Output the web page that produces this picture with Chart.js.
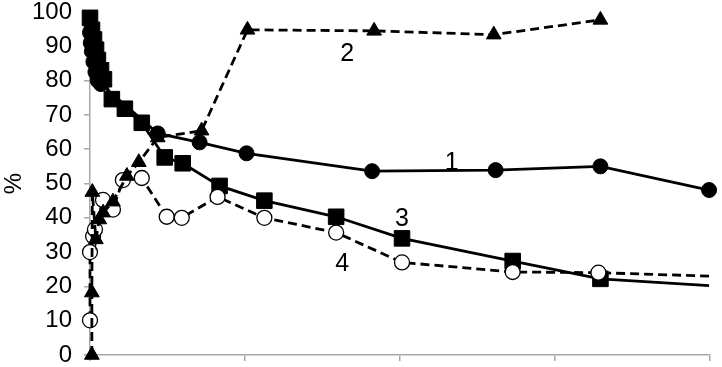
<!DOCTYPE html>
<html>
<head>
<meta charset="utf-8">
<script src="https://cdn.jsdelivr.net/npm/chart.js@4/dist/chart.umd.min.js"></script>
<style>
  html, body { margin: 0; padding: 0; background: #fff; }
  #wrap { width: 722px; height: 367px; }
</style>
</head>
<body>
<div id="wrap"><canvas id="chart"></canvas></div>
<script>
// curve 1 - filled circles, solid
const s1x = [0, 0.005, 0.012, 0.022, 0.035, 0.05, 0.07, 0.437, 0.707, 1.01, 1.82, 2.617, 3.293, 3.994];
const s1y = [94, 91, 88.5, 85.5, 82.5, 80, 79, 64.6, 62, 58.8, 53.6, 53.9, 55, 48.1];

// curve 2 - triangles, dashed
const s2x = [0.012, 0.012, 0.015, 0.038, 0.06, 0.085, 0.148, 0.238, 0.315, 0.437, 0.72, 1.016, 1.833, 2.605, 3.293];
const s2y = [0, 18.2, 47.5, 33.7, 39.5, 41.5, 44.7, 52.2, 56.2, 63.4, 65.4, 94.8, 94.5, 93.4, 97.7];

// curve 3 - filled squares, solid
const s3x = [0, 0.013, 0.026, 0.039, 0.051, 0.071, 0.09, 0.141, 0.225, 0.334, 0.482, 0.598, 0.836, 1.125, 1.588, 2.013, 2.727, 3.293, 3.994];
const s3y = [98.3, 94.8, 92, 89, 86, 83, 80.4, 74.6, 71.8, 67.7, 57.6, 55.9, 49.3, 45, 40.3, 34, 27.4, 22.2, 20.2];

// curve 4 - open circles, dashed
const s4x = [0, 0, 0.02, 0.032, 0.084, 0.148, 0.212, 0.334, 0.495, 0.592, 0.823, 1.125, 1.588, 2.013, 2.727, 3.28, 3.994];
const s4y = [10.1, 30, 34.6, 36.6, 45.2, 42.4, 51, 51.6, 40.3, 40, 46.1, 40, 35.7, 27, 24.2, 24, 23];

// curve numbers placed in data units
const labelText = ['1', '2', '3', '4'];
const labelX = [2.334, 1.659, 2.013, 1.627];
const labelY = [55.9, 87.6, 39.5, 26.5];

const pts = (xs, ys) => xs.map((x, i) => ({ x: x, y: ys[i] }));
const noLast = (n, r) => Array.from({ length: n }, (_, i) => i === n - 1 ? 0 : r);

const curveLabels = {
  id: 'curveLabels',
  afterDatasetsDraw(chart) {
    const ctx = chart.ctx;
    const xs = chart.scales.x, ys = chart.scales.y;
    ctx.save();
    ctx.fillStyle = '#000';
    ctx.font = '25px "Liberation Sans", Arial, sans-serif';
    ctx.textAlign = 'center';
    ctx.textBaseline = 'middle';
    labelText.forEach((t, i) => {
      ctx.fillText(t, xs.getPixelForValue(labelX[i]), ys.getPixelForValue(labelY[i]));
    });
    ctx.restore();
  }
};

const grey = '#a8a8a8';

new Chart(document.getElementById('chart'), {
  type: 'scatter',
  data: {
    datasets: [
      {
        label: '2',
        data: pts(s2x, s2y),
        showLine: true,
        borderColor: '#000',
        borderWidth: 2.8,
        borderDash: [9, 5],
        pointStyle: 'triangle',
        pointRadius: 8.5,
        pointBackgroundColor: '#000',
        pointBorderColor: '#000',
        pointBorderWidth: 1,
        clip: false
      },
      {
        label: '4',
        data: pts(s4x, s4y),
        showLine: true,
        borderColor: '#000',
        borderWidth: 2.8,
        borderDash: [9, 5],
        pointStyle: 'circle',
        pointRadius: noLast(s4x.length, 7.5),
        pointBackgroundColor: '#fff',
        pointBorderColor: '#000',
        pointBorderWidth: 1.3,
        clip: false
      },
      {
        label: '3',
        data: pts(s3x, s3y),
        showLine: true,
        borderColor: '#000',
        borderWidth: 2.8,
        pointStyle: 'rect',
        pointRadius: noLast(s3x.length, 11),
        pointBackgroundColor: '#000',
        pointBorderColor: '#000',
        pointBorderWidth: 1,
        clip: false
      },
      {
        label: '1',
        data: pts(s1x, s1y),
        showLine: true,
        borderColor: '#000',
        borderWidth: 2.8,
        pointStyle: 'circle',
        pointRadius: 7.5,
        pointBackgroundColor: '#000',
        pointBorderColor: '#000',
        pointBorderWidth: 1,
        clip: false
      }
    ]
  },
  options: {
    responsive: true,
    maintainAspectRatio: false,
    animation: false,
    layout: { padding: { top: 10, right: 10, left: 0, bottom: 0 } },
    plugins: {
      legend: { display: false },
      tooltip: { enabled: false }
    },
    scales: {
      x: {
        type: 'linear',
        min: 0,
        max: 4,
        ticks: { stepSize: 1, display: false },
        grid: { drawOnChartArea: false, drawTicks: true, tickLength: 6, color: grey, lineWidth: 1.5 },
        border: { color: grey, width: 1.5 },
        afterFit(scale) { scale.height = 10; scale.paddingLeft = 0; scale.paddingRight = 0; }
      },
      y: {
        min: 0,
        max: 100,
        ticks: {
          stepSize: 10,
          color: '#000',
          padding: 12,
          font: { family: '"Liberation Sans", Arial, sans-serif', size: 24 }
        },
        grid: { drawOnChartArea: false, drawTicks: true, tickLength: 6, color: grey, lineWidth: 1.5 },
        border: { color: grey, width: 1.5 },
        title: {
          display: true,
          text: '%',
          color: '#000',
          padding: 0,
          font: { family: '"Liberation Sans", Arial, sans-serif', size: 24 }
        },
        afterFit(scale) { scale.width = 90; scale.paddingTop = 0; scale.paddingBottom = 0; }
      }
    }
  },
  plugins: [curveLabels]
});
</script>
</body>
</html>
